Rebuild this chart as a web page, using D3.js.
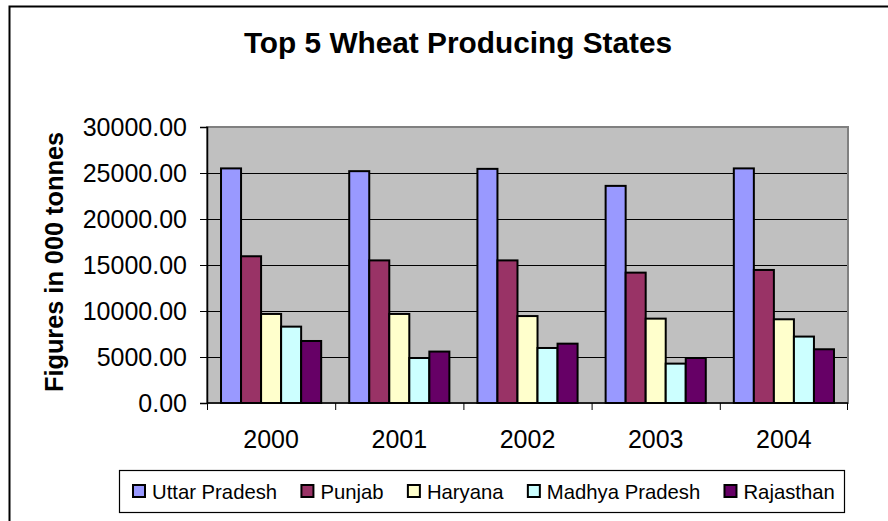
<!DOCTYPE html>
<html>
<head>
<meta charset="utf-8">
<script src="https://cdn.jsdelivr.net/npm/d3@7"></script>
<style>
  html, body { margin: 0; padding: 0; background: #fff; }
  svg { display: block; font-family: "Liberation Sans", Arial, sans-serif; }
</style>
</head>
<body>
<svg id="chart" width="888" height="521"></svg>
<script>
// Wheat production of the top five states, in thousand tonnes
const years = ["2000", "2001", "2002", "2003", "2004"];
const states = ["Uttar Pradesh", "Punjab", "Haryana", "Madhya Pradesh", "Rajasthan"];
const uttarPradesh  = [25500, 25200, 25450, 23600, 25500];
const punjab        = [15950, 15500, 15500, 14170, 14460];
const haryana       = [9680, 9680, 9450, 9170, 9100];
const madhyaPradesh = [8300, 4890, 5980, 4280, 7220];
const rajasthan     = [6740, 5590, 6450, 4890, 5840];
const yTicks = [0, 5000, 10000, 15000, 20000, 25000, 30000];
const colors = ["#9999FF", "#993366", "#FFFFCC", "#CCFFFF", "#660066"];

const seriesValues = [uttarPradesh, punjab, haryana, madhyaPradesh, rajasthan];
const rows = [];
years.forEach((yr, i) => {
  states.forEach((st, j) => rows.push({ year: yr, state: st, value: seriesValues[j][i], color: colors[j] }));
});

const svg = d3.select("#chart");
const plot = { left: 207, top: 127, right: 848, bottom: 403 };

// Chart frame (continues past the right and bottom edges)
svg.append("rect")
  .attr("x", 9.5).attr("y", 6.5)
  .attr("width", 900).attr("height", 540)
  .attr("fill", "#fff").attr("stroke", "#000").attr("stroke-width", 2);

// Title
svg.append("text")
  .attr("x", 458).attr("y", 53)
  .attr("text-anchor", "middle")
  .attr("font-size", 29.8).attr("font-weight", "bold")
  .text("Top 5 Wheat Producing States");

const x = d3.scaleBand().domain(years).range([plot.left, plot.right]).paddingInner(0).paddingOuter(0);
const xs = d3.scaleBand().domain(states).range([0, x.bandwidth()]).paddingInner(0).paddingOuter(0.7);
const y = d3.scaleLinear().domain([0, 30000]).range([plot.bottom, plot.top]);

// Plot area background
svg.append("rect")
  .attr("x", plot.left).attr("y", plot.top)
  .attr("width", plot.right - plot.left).attr("height", plot.bottom - plot.top)
  .attr("fill", "#C0C0C0").attr("stroke", "#808080").attr("stroke-width", 2);

// Horizontal gridlines
svg.append("g").selectAll("line")
  .data(yTicks.filter(t => t > 0 && t < 30000))
  .join("line")
  .attr("x1", plot.left).attr("x2", plot.right - 1)
  .attr("y1", d => Math.round(y(d)) + 0.5).attr("y2", d => Math.round(y(d)) + 0.5)
  .attr("stroke", "#000").attr("stroke-width", 1);

// Bars
svg.append("g").selectAll("rect")
  .data(rows)
  .join("rect")
  .attr("x", d => x(d.year) + xs(d.state))
  .attr("y", d => y(d.value))
  .attr("width", xs.bandwidth())
  .attr("height", d => y(0) - y(d.value))
  .attr("fill", d => d.color)
  .attr("stroke", "#000").attr("stroke-width", 2);

// Y axis
const yAxis = svg.append("g")
  .attr("transform", `translate(${plot.left},0)`)
  .call(d3.axisLeft(y).tickValues(yTicks).tickFormat(d3.format(".2f")).tickSize(7).tickPadding(13));
yAxis.select(".domain").attr("stroke", "#000").attr("stroke-width", 1.5);
yAxis.selectAll(".tick line").attr("stroke", "#000");
yAxis.selectAll(".tick text")
  .attr("font-size", 25).attr("fill", "#000")
  .attr("font-family", "'Liberation Sans', Arial, sans-serif");

// X axis: ticks sit on category boundaries
const xAxis = svg.append("g").attr("transform", `translate(0,${plot.bottom})`);
xAxis.append("line")
  .attr("x1", plot.left).attr("x2", plot.right)
  .attr("y1", 0).attr("y2", 0)
  .attr("stroke", "#000").attr("stroke-width", 1.5);
const bounds = years.map(yr => x(yr)).concat([plot.right - 1]);
xAxis.selectAll("line.tk")
  .data(bounds)
  .join("line").attr("class", "tk")
  .attr("x1", d => d + 0.5).attr("x2", d => d + 0.5)
  .attr("y1", 0).attr("y2", 7)
  .attr("stroke", "#000");
xAxis.selectAll("text")
  .data(years)
  .join("text")
  .attr("x", d => x(d) + x.bandwidth() / 2)
  .attr("y", 45)
  .attr("text-anchor", "middle")
  .attr("font-size", 25)
  .text(d => d);

// Y axis title
svg.append("text")
  .attr("transform", "translate(63,262) rotate(-90)")
  .attr("text-anchor", "middle")
  .attr("font-size", 25.3).attr("font-weight", "bold")
  .text("Figures in 000 tonnes");

// Legend
const legend = svg.append("g");
legend.append("rect")
  .attr("x", 119.5).attr("y", 470.5)
  .attr("width", 725).attr("height", 42)
  .attr("fill", "#fff").attr("stroke", "#000").attr("stroke-width", 1.2);
let lx = 132;
states.forEach((st, i) => {
  legend.append("rect")
    .attr("x", lx + 1).attr("y", 485)
    .attr("width", 12).attr("height", 12)
    .attr("fill", colors[i]).attr("stroke", "#000").attr("stroke-width", 2);
  const t = legend.append("text")
    .attr("x", lx + 20).attr("y", 498.5)
    .attr("font-size", 20.3)
    .text(st);
  lx += 20 + t.node().getComputedTextLength() + 23.3;
});
</script>
</body>
</html>
